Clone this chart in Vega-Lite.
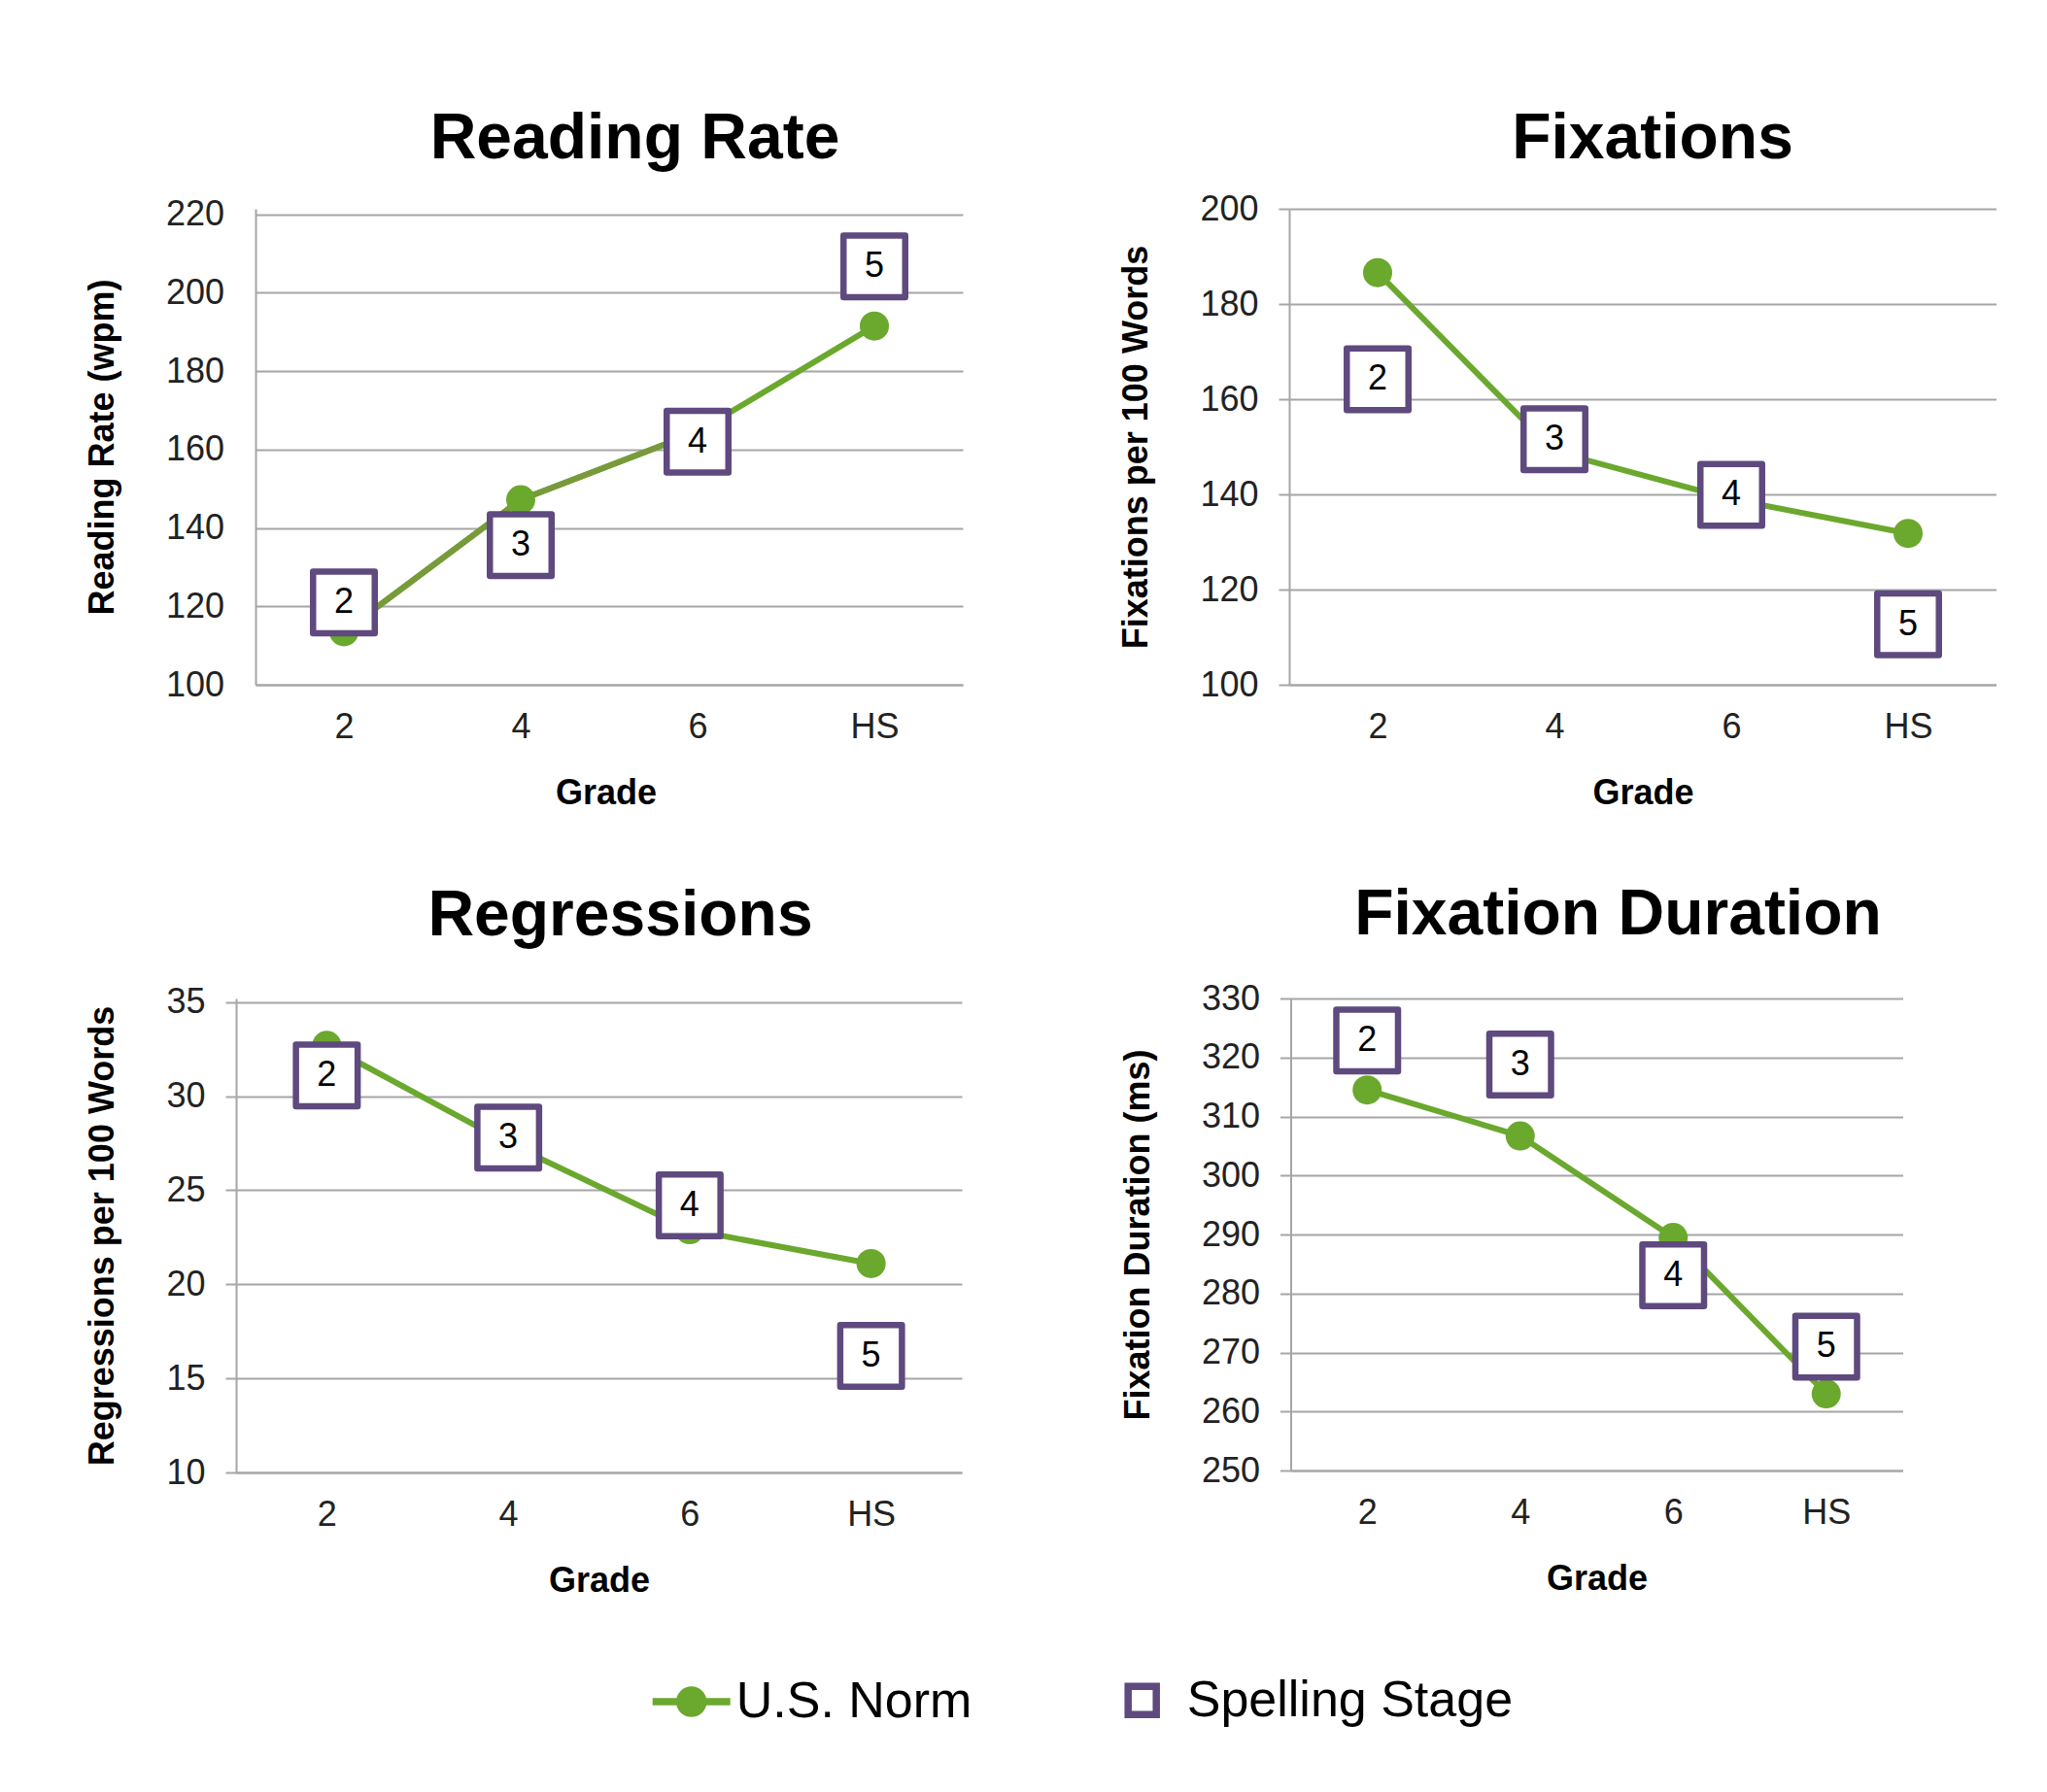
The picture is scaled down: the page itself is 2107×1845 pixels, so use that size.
{
  "$schema": "https://vega.github.io/schema/vega-lite/v6.json",
  "background": "white",
  "padding": {"left": 87, "top": 109, "right": 0, "bottom": 40},
  "autosize": {"type": "pad"},
  "datasets": {
    "d": [
      {"panel": "Reading Rate", "series": "U.S. Norm", "grade": "2", "value": 113.5},
      {"panel": "Reading Rate", "series": "U.S. Norm", "grade": "4", "value": 147.2},
      {"panel": "Reading Rate", "series": "U.S. Norm", "grade": "6", "value": 164.5},
      {"panel": "Reading Rate", "series": "U.S. Norm", "grade": "HS", "value": 191.5},
      {"panel": "Reading Rate", "series": "Spelling Stage", "grade": "2", "value": 121, "stage": "2"},
      {"panel": "Reading Rate", "series": "Spelling Stage", "grade": "4", "value": 135.6, "stage": "3"},
      {"panel": "Reading Rate", "series": "Spelling Stage", "grade": "6", "value": 162, "stage": "4"},
      {"panel": "Reading Rate", "series": "Spelling Stage", "grade": "HS", "value": 206.7, "stage": "5"},
      {"panel": "Fixations", "series": "U.S. Norm", "grade": "2", "value": 186.6},
      {"panel": "Fixations", "series": "U.S. Norm", "grade": "4", "value": 149},
      {"panel": "Fixations", "series": "U.S. Norm", "grade": "6", "value": 139},
      {"panel": "Fixations", "series": "U.S. Norm", "grade": "HS", "value": 131.8},
      {"panel": "Fixations", "series": "Spelling Stage", "grade": "2", "value": 164.2, "stage": "2"},
      {"panel": "Fixations", "series": "Spelling Stage", "grade": "4", "value": 151.6, "stage": "3"},
      {"panel": "Fixations", "series": "Spelling Stage", "grade": "6", "value": 139.9, "stage": "4"},
      {"panel": "Fixations", "series": "Spelling Stage", "grade": "HS", "value": 112.7, "stage": "5"},
      {"panel": "Regressions", "series": "U.S. Norm", "grade": "2", "value": 32.7},
      {"panel": "Regressions", "series": "U.S. Norm", "grade": "4", "value": 27.5},
      {"panel": "Regressions", "series": "U.S. Norm", "grade": "6", "value": 22.9},
      {"panel": "Regressions", "series": "U.S. Norm", "grade": "HS", "value": 21.1},
      {"panel": "Regressions", "series": "Spelling Stage", "grade": "2", "value": 31.1, "stage": "2"},
      {"panel": "Regressions", "series": "Spelling Stage", "grade": "4", "value": 27.8, "stage": "3"},
      {"panel": "Regressions", "series": "Spelling Stage", "grade": "6", "value": 24.2, "stage": "4"},
      {"panel": "Regressions", "series": "Spelling Stage", "grade": "HS", "value": 16.2, "stage": "5"},
      {"panel": "Fixation Duration", "series": "U.S. Norm", "grade": "2", "value": 314.5},
      {"panel": "Fixation Duration", "series": "U.S. Norm", "grade": "4", "value": 306.7},
      {"panel": "Fixation Duration", "series": "U.S. Norm", "grade": "6", "value": 289.5},
      {"panel": "Fixation Duration", "series": "U.S. Norm", "grade": "HS", "value": 263},
      {"panel": "Fixation Duration", "series": "Spelling Stage", "grade": "2", "value": 322.9, "stage": "2"},
      {"panel": "Fixation Duration", "series": "Spelling Stage", "grade": "4", "value": 318.8, "stage": "3"},
      {"panel": "Fixation Duration", "series": "Spelling Stage", "grade": "6", "value": 283.1, "stage": "4"},
      {"panel": "Fixation Duration", "series": "Spelling Stage", "grade": "HS", "value": 271, "stage": "5"}
    ]
  },
  "concat": [
    {
      "spacing": 160,
      "hconcat": [
        {
          "width": 748, "height": 490,
          "data": {"name": "d"},
          "title": {"text": "Reading Rate", "dx": 36.5, "offset": 25.6},
          "transform": [{"filter": "datum.panel === 'Reading Rate'"}],
          "encoding": {
            "x": {"field": "grade", "type": "ordinal", "sort": ["2", "4", "6", "HS"], "scale": {"type": "point", "padding": 0.5, "range": [20, 748]}, "axis": {"title": "Grade", "titleX": 380.5}},
            "y": {"field": "value", "type": "quantitative", "scale": {"domain": [100, 221.4], "nice": false, "zero": false}, "axis": {"values": [100, 120, 140, 160, 180, 200, 220], "title": "Reading Rate (wpm)", "offset": -20, "tickSize": 0, "ticks": false, "labelPadding": 32.5}}
          },
          "layer": [
            {"transform": [{"filter": "datum.series === 'U.S. Norm'"}], "mark": {"type": "line", "color": "#6BA82E", "strokeWidth": 6}},
            {"transform": [{"filter": "datum.series === 'U.S. Norm' && datum.grade !== 'HS'"}], "mark": {"type": "line", "color": "#789A3A", "strokeWidth": 6}},
            {"transform": [{"filter": "datum.series === 'U.S. Norm'"}], "mark": {"type": "circle", "color": "#6BA82E", "size": 900, "opacity": 1}},
            {"transform": [{"filter": "datum.series === 'Spelling Stage'"}],
             "mark": {"type": "point", "filled": true, "strokeWidth": 6.5, "size": 30690, "opacity": 1, "fillOpacity": 1, "strokeOpacity": 1, "strokeJoin": "round"},
             "encoding": {
               "shape": {"field": "series", "type": "nominal",
                 "scale": {"domain": ["U.S. Norm", "Spelling Stage"], "range": ["M-1,0H1M-0.3,0A0.3,0.3 0 1,1 0.3,0A0.3,0.3 0 1,1 -0.3,0Z", "M-0.3625,-0.3625H0.3625V0.3625H-0.3625Z"]},
                 "legend": {"orient": "none", "legendX": 424.7, "legendY": 1491.6, "direction": "horizontal", "title": null,
                   "labelFontSize": 52, "labelFont": "Liberation Sans", "labelColor": "#000", "labelLimit": 1000, "labelOffset": 2,
                   "columnPadding": 131, "symbolSize": 6400, "padding": 0, "symbolStrokeWidth": 7.5, "symbolOpacity": 1}},
               "fill": {"field": "series", "type": "nominal",
                 "scale": {"domain": ["U.S. Norm", "Spelling Stage"], "range": ["#6BA82E", "#FFFFFF"]},
                 "legend": {"orient": "none", "legendX": 424.7, "legendY": 1491.6, "direction": "horizontal", "title": null,
                   "labelFontSize": 52, "labelFont": "Liberation Sans", "labelColor": "#000", "labelLimit": 1000, "labelOffset": 2,
                   "columnPadding": 131, "symbolSize": 6400, "padding": 0, "symbolStrokeWidth": 7.5, "symbolOpacity": 1}},
               "stroke": {"field": "series", "type": "nominal",
                 "scale": {"domain": ["U.S. Norm", "Spelling Stage"], "range": ["#6BA82E", "#5E4A7E"]},
                 "legend": {"orient": "none", "legendX": 424.7, "legendY": 1491.6, "direction": "horizontal", "title": null,
                   "labelFontSize": 52, "labelFont": "Liberation Sans", "labelColor": "#000", "labelLimit": 1000, "labelOffset": 2,
                   "columnPadding": 131, "symbolSize": 6400, "padding": 0, "symbolStrokeWidth": 7.5, "symbolOpacity": 1}}
             }},
            {"transform": [{"filter": "datum.series === 'Spelling Stage'"}], "mark": {"type": "text", "fontSize": 36, "color": "#000", "baseline": "middle", "font": "Liberation Sans"}, "encoding": {"text": {"field": "stage"}}}
          ]
        },
        {
          "width": 728, "height": 490,
          "data": {"name": "d"},
          "title": {"text": "Fixations", "dx": 10, "offset": 20.1},
          "transform": [{"filter": "datum.panel === 'Fixations'"}],
          "encoding": {
            "x": {"field": "grade", "type": "ordinal", "sort": ["2", "4", "6", "HS"], "scale": {"type": "point", "padding": 0.5}, "title": "Grade"},
            "y": {"field": "value", "type": "quantitative", "scale": {"domain": [100, 200], "nice": false, "zero": false}, "axis": {"values": [100, 120, 140, 160, 180, 200], "title": "Fixations per 100 Words"}}
          },
          "layer": [
            {"transform": [{"filter": "datum.series === 'U.S. Norm'"}], "mark": {"type": "line", "color": "#6BA82E", "strokeWidth": 6}},
            {"transform": [{"filter": "datum.series === 'U.S. Norm'"}], "mark": {"type": "circle", "color": "#6BA82E", "size": 900, "opacity": 1}},
            {"transform": [{"filter": "datum.series === 'Spelling Stage'"}], "mark": {"type": "point", "shape": "M-0.3625,-0.3625H0.3625V0.3625H-0.3625Z", "fill": "white", "stroke": "#5E4A7E", "strokeWidth": 6.5, "size": 30690, "opacity": 1, "fillOpacity": 1, "strokeJoin": "round"}},
            {"transform": [{"filter": "datum.series === 'Spelling Stage'"}], "mark": {"type": "text", "fontSize": 36, "color": "#000", "baseline": "middle", "font": "Liberation Sans"}, "encoding": {"text": {"field": "stage"}}}
          ]
        }
      ]
    },
    {
      "spacing": 162.5,
      "hconcat": [
        {
          "width": 747, "height": 488,
          "data": {"name": "d"},
          "title": {"text": "Regressions", "dx": 22, "offset": 36.5},
          "transform": [{"filter": "datum.panel === 'Regressions'"}],
          "encoding": {
            "x": {"field": "grade", "type": "ordinal", "sort": ["2", "4", "6", "HS"], "scale": {"type": "point", "padding": 0.5}, "title": "Grade"},
            "y": {"field": "value", "type": "quantitative", "scale": {"domain": [10, 35.19], "nice": false, "zero": false}, "axis": {"values": [10, 15, 20, 25, 30, 35], "title": "Regressions per 100 Words"}}
          },
          "layer": [
            {"transform": [{"filter": "datum.series === 'U.S. Norm'"}], "mark": {"type": "line", "color": "#6BA82E", "strokeWidth": 6}},
            {"transform": [{"filter": "datum.series === 'U.S. Norm'"}], "mark": {"type": "circle", "color": "#6BA82E", "size": 900, "opacity": 1}},
            {"transform": [{"filter": "datum.series === 'Spelling Stage'"}], "mark": {"type": "point", "shape": "M-0.3625,-0.3625H0.3625V0.3625H-0.3625Z", "fill": "white", "stroke": "#5E4A7E", "strokeWidth": 6.5, "size": 30690, "opacity": 1, "fillOpacity": 1, "strokeJoin": "round"}},
            {"transform": [{"filter": "datum.series === 'Spelling Stage'"}], "mark": {"type": "text", "fontSize": 36, "color": "#000", "baseline": "middle", "font": "Liberation Sans"}, "encoding": {"text": {"field": "stage"}}}
          ]
        },
        {
          "width": 630, "height": 486,
          "data": {"name": "d"},
          "title": {"text": "Fixation Duration", "dx": 22, "offset": 34.2},
          "transform": [{"filter": "datum.panel === 'Fixation Duration'"}],
          "encoding": {
            "x": {"field": "grade", "type": "ordinal", "sort": ["2", "4", "6", "HS"], "scale": {"type": "point", "padding": 0.5}, "title": "Grade"},
            "y": {"field": "value", "type": "quantitative", "scale": {"domain": [250, 330], "nice": false, "zero": false}, "axis": {"values": [250, 260, 270, 280, 290, 300, 310, 320, 330], "title": "Fixation Duration (ms)"}}
          },
          "layer": [
            {"transform": [{"filter": "datum.series === 'U.S. Norm'"}], "mark": {"type": "line", "color": "#6BA82E", "strokeWidth": 6}},
            {"transform": [{"filter": "datum.series === 'U.S. Norm'"}], "mark": {"type": "circle", "color": "#6BA82E", "size": 900, "opacity": 1}},
            {"transform": [{"filter": "datum.series === 'Spelling Stage'"}], "mark": {"type": "point", "shape": "M-0.3625,-0.3625H0.3625V0.3625H-0.3625Z", "fill": "white", "stroke": "#5E4A7E", "strokeWidth": 6.5, "size": 30690, "opacity": 1, "fillOpacity": 1, "strokeJoin": "round"}},
            {"transform": [{"filter": "datum.series === 'Spelling Stage'"}], "mark": {"type": "text", "fontSize": 36, "color": "#000", "baseline": "middle", "font": "Liberation Sans"}, "encoding": {"text": {"field": "stage"}}}
          ]
        }
      ]
    }
  ],
  "columns": 1,
  "align": "none",
  "spacing": 74,
  "config": {
    "font": "Liberation Sans",
    "view": {"stroke": null},
    "title": {"font": "Liberation Sans", "fontSize": 66, "fontWeight": "bold", "color": "#000", "anchor": "middle", "frame": "group", "baseline": "alphabetic"},
    "axis": {"labelFont": "Liberation Sans", "labelFontSize": 36, "labelColor": "#222", "titleFont": "Liberation Sans", "titleFontSize": 36, "titleFontWeight": "bold", "titleColor": "#000",
      "gridColor": "#a6a6a6", "gridWidth": 2, "domainColor": "#a6a6a6", "domainWidth": 2, "tickColor": "#a6a6a6", "tickWidth": 2},
    "axisX": {"ticks": false, "labelAngle": 0, "labelPadding": 26, "grid": false, "titlePadding": 33},
    "axisY": {"tickSize": 11, "labelPadding": 21, "titlePadding": 46, "grid": true}
  }
}
